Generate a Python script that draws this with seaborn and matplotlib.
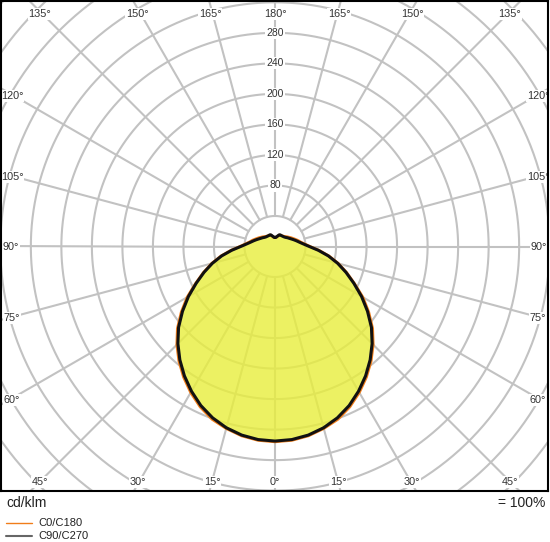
import numpy as np
import pandas as pd
import matplotlib
matplotlib.use("Agg")
import matplotlib.pyplot as plt
from matplotlib.lines import Line2D
import seaborn as sns

sns.set_style("white")
plt.rcParams['font.family'] = ['Liberation Sans', 'DejaVu Sans']

# luminous intensity (cd/klm) per gamma angle
gamma = [0, 5, 10, 15, 20, 25, 30, 35, 40, 45, 50, 55, 60, 65, 70, 75, 80, 85, 90,
         95, 100, 105, 110, 115, 120, 125, 130, 135, 140, 145, 150, 155, 160, 165, 170, 175, 180]
c90_c270 = [255, 254, 251, 246, 239, 230, 219, 207, 194, 180, 165, 148, 131, 114, 99, 85, 71, 57, 45,
            37.5, 32.5, 29, 26, 23.5, 21.5, 20, 18.5, 17.5, 17, 16.7, 16.5, 16.7, 16.3, 14.5, 13, 12, 12]
c0_c180 = [256, 255, 252, 247, 241, 232, 221, 209, 196, 182, 167, 150, 133, 115, 100, 86, 72, 58, 46,
           39, 34, 31, 28, 25.5, 23.5, 21.5, 20, 18.5, 17.5, 17, 16.5, 16.3, 15.8, 14, 12.5, 12, 12]

ring_values = [40, 80, 120, 160, 200, 240, 280, 320, 360, 400, 440, 480]
ring_labels = [80, 120, 160, 200, 240, 280]
spoke_angles = list(range(0, 360, 15))

W, H = 550, 542
PX = 0.763  # pixels per cd/klm
CX, CY = 275, 246.5  # pole position in pixels


def curve(values):
    g = np.radians(gamma)
    v = np.asarray(values, dtype=float)
    # left half (C180 / C270) then right half (C0 / C90)
    x = np.concatenate([-v[::-1] * np.sin(g[::-1]), v * np.sin(g)])
    y = np.concatenate([-v[::-1] * np.cos(g[::-1]), -v * np.cos(g)])
    return pd.DataFrame({'x': x, 'y': y})


def to_data(px, py):
    return (px - CX) / PX, (CY - py) / PX


fig = plt.figure(figsize=(W / 100, H / 100), dpi=100)
ax = fig.add_axes([1 / W, (H - 491) / H, 546.5 / W, 490 / H])
ax.set_xlim(-(CX - 1) / PX, (547.5 - CX) / PX)
ax.set_ylim(-(491 - CY) / PX, (CY - 1) / PX)

grid_col = '#c2c2c2'
t = np.linspace(0, 2 * np.pi, 400)
for r in ring_values:
    ax.plot(r * np.cos(t), r * np.sin(t), color=grid_col, lw=1.5, zorder=1)
for a in spoke_angles:
    ar = np.radians(a)
    ax.plot([40 * np.cos(ar), 700 * np.cos(ar)], [40 * np.sin(ar), 700 * np.sin(ar)],
            color=grid_col, lw=1.5, zorder=1)

# filled distribution
df90 = curve(c90_c270)
df0 = curve(c0_c180)
ax.fill(df90['x'], df90['y'], color=(232 / 255, 238 / 255, 60 / 255), alpha=0.8, lw=0, zorder=2)

sns.lineplot(data=df0, x='x', y='y', sort=False, estimator=None, color='#f07d1a', lw=2.0, ax=ax, zorder=3)
sns.lineplot(data=df90, x='x', y='y', sort=False, estimator=None, color='#111111', lw=2.2, ax=ax, zorder=4)

box = dict(boxstyle='square,pad=0.1', fc='white', ec='none')
for r in ring_labels:
    ax.text(0, r, str(r), ha='center', va='center', fontsize=7.5, color='#333333', bbox=box, zorder=5)

angle_labels = [
    (40, 14, '135°'), (137, 14, '150°'), (210, 14, '165°'), (275, 14, '180°'),
    (339, 14, '165°'), (412, 14, '150°'), (510, 14, '135°'),
    (12, 96, '120°'), (12, 177, '105°'), (11, 247, '90°'), (12, 318, '75°'), (12, 400, '60°'),
    (538, 96, '120°'), (538, 177, '105°'), (539, 247, '90°'), (538, 318, '75°'), (538, 400, '60°'),
    (40, 482, '45°'), (138, 482, '30°'), (212, 482, '15°'), (275, 482, '0°'),
    (338, 482, '15°'), (412, 482, '30°'), (510, 482, '45°'),
]
for lx, ly, s in angle_labels:
    dx, dy = to_data(lx, ly)
    ax.text(dx, dy, s, ha='center', va='center', fontsize=7.8, color='#333333',
            bbox=box, zorder=5, clip_on=True)

ax.set_xticks([])
ax.set_yticks([])
ax.set_xlabel('')
ax.set_ylabel('')
for sp in ax.spines.values():
    sp.set_visible(True)
    sp.set_color('black')
    sp.set_linewidth(1.5)
    sp.set_zorder(6)

fig.text(6 / W, 1 - 503 / H, 'cd/klm', ha='left', va='center', fontsize=10, color='#222222')
fig.text(545 / W, 1 - 503 / H, '= 100%', ha='right', va='center', fontsize=10, color='#222222')

fig.add_artist(Line2D([6 / W, 32 / W], [1 - 523 / H] * 2, color='#f07d1a', lw=1.0))
fig.add_artist(Line2D([6 / W, 32 / W], [1 - 536 / H] * 2, color='#666666', lw=1.5))
fig.text(38 / W, 1 - 523 / H, 'C0/C180', ha='left', va='center', fontsize=8, color='#222222')
fig.text(38 / W, 1 - 536 / H, 'C90/C270', ha='left', va='center', fontsize=8, color='#222222')

fig.savefig('out.png', dpi=100)
